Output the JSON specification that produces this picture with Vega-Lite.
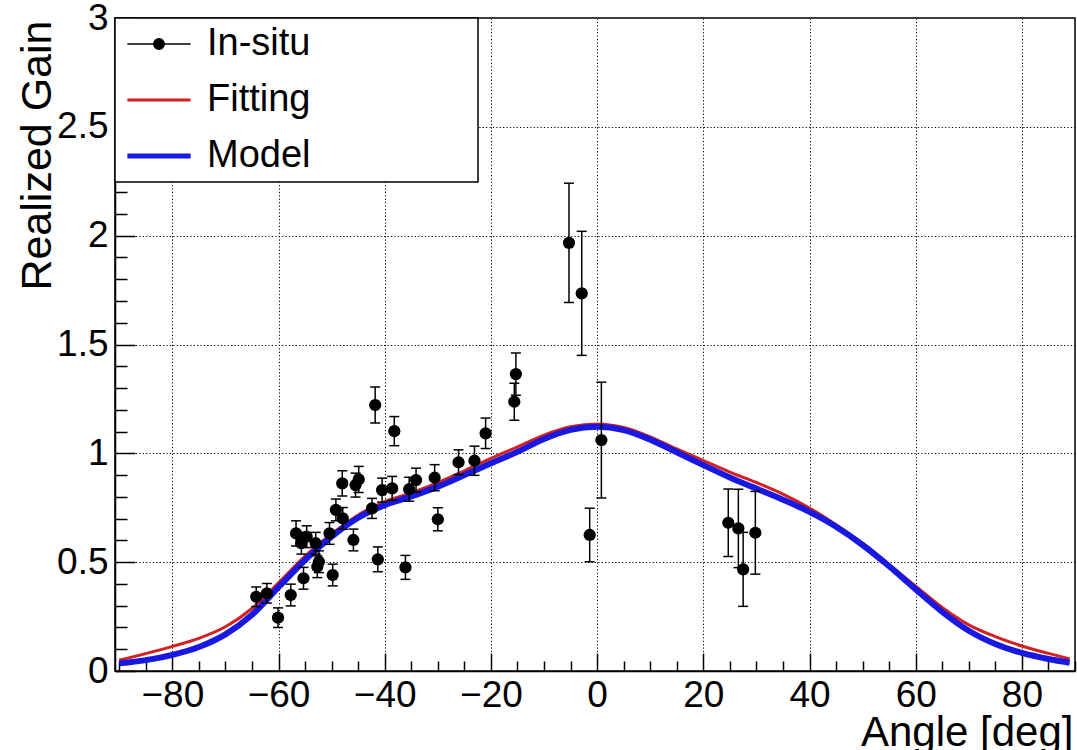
{
  "$schema": "https://vega.github.io/schema/vega-lite/v6.json",
  "width": 960,
  "height": 653,
  "autosize": "none",
  "padding": {"left": 115, "top": 18, "right": 2, "bottom": 79},
  "background": "white",
  "config": {
    "view": {"stroke": "black", "strokeWidth": 1.5},
    "font": "Liberation Sans",
    "axis": {
      "labelFont": "Liberation Sans",
      "labelColor": "black",
      "labelOverlap": false,
      "labelFlush": false,
      "labelBound": false,
      "titleFont": "Liberation Sans",
      "titleColor": "black",
      "titleFontWeight": "normal",
      "tickColor": "black",
      "tickWidth": 1.5,
      "domainColor": "black",
      "domainWidth": 1.5,
      "gridColor": "black",
      "gridDash": [1.2, 2.2],
      "gridWidth": 1
    }
  },
  "datasets": {
    "curves": [
      {"angle": -90, "series": "Fitting", "gain": 0.05},
      {"angle": -85, "series": "Fitting", "gain": 0.08},
      {"angle": -80, "series": "Fitting", "gain": 0.113},
      {"angle": -75, "series": "Fitting", "gain": 0.15},
      {"angle": -70, "series": "Fitting", "gain": 0.203},
      {"angle": -65, "series": "Fitting", "gain": 0.287},
      {"angle": -60, "series": "Fitting", "gain": 0.405},
      {"angle": -55, "series": "Fitting", "gain": 0.528},
      {"angle": -50, "series": "Fitting", "gain": 0.63},
      {"angle": -45, "series": "Fitting", "gain": 0.717},
      {"angle": -40, "series": "Fitting", "gain": 0.778},
      {"angle": -35, "series": "Fitting", "gain": 0.818},
      {"angle": -30, "series": "Fitting", "gain": 0.865},
      {"angle": -25, "series": "Fitting", "gain": 0.92},
      {"angle": -20, "series": "Fitting", "gain": 0.977},
      {"angle": -15, "series": "Fitting", "gain": 1.03},
      {"angle": -10, "series": "Fitting", "gain": 1.084},
      {"angle": -5, "series": "Fitting", "gain": 1.122},
      {"angle": 0, "series": "Fitting", "gain": 1.135},
      {"angle": 5, "series": "Fitting", "gain": 1.119},
      {"angle": 10, "series": "Fitting", "gain": 1.076},
      {"angle": 15, "series": "Fitting", "gain": 1.02},
      {"angle": 20, "series": "Fitting", "gain": 0.967},
      {"angle": 25, "series": "Fitting", "gain": 0.914},
      {"angle": 30, "series": "Fitting", "gain": 0.866},
      {"angle": 35, "series": "Fitting", "gain": 0.813},
      {"angle": 40, "series": "Fitting", "gain": 0.749},
      {"angle": 45, "series": "Fitting", "gain": 0.672},
      {"angle": 50, "series": "Fitting", "gain": 0.587},
      {"angle": 55, "series": "Fitting", "gain": 0.489},
      {"angle": 60, "series": "Fitting", "gain": 0.39},
      {"angle": 65, "series": "Fitting", "gain": 0.292},
      {"angle": 70, "series": "Fitting", "gain": 0.212},
      {"angle": 75, "series": "Fitting", "gain": 0.158},
      {"angle": 80, "series": "Fitting", "gain": 0.115},
      {"angle": 85, "series": "Fitting", "gain": 0.081},
      {"angle": 89, "series": "Fitting", "gain": 0.056},
      {"angle": -90, "series": "Model", "gain": 0.035},
      {"angle": -85, "series": "Model", "gain": 0.05},
      {"angle": -80, "series": "Model", "gain": 0.074},
      {"angle": -75, "series": "Model", "gain": 0.11},
      {"angle": -70, "series": "Model", "gain": 0.168},
      {"angle": -65, "series": "Model", "gain": 0.258},
      {"angle": -60, "series": "Model", "gain": 0.385},
      {"angle": -55, "series": "Model", "gain": 0.51},
      {"angle": -50, "series": "Model", "gain": 0.617},
      {"angle": -45, "series": "Model", "gain": 0.704},
      {"angle": -40, "series": "Model", "gain": 0.762},
      {"angle": -35, "series": "Model", "gain": 0.802},
      {"angle": -30, "series": "Model", "gain": 0.847},
      {"angle": -25, "series": "Model", "gain": 0.9},
      {"angle": -20, "series": "Model", "gain": 0.954},
      {"angle": -15, "series": "Model", "gain": 1.007},
      {"angle": -10, "series": "Model", "gain": 1.066},
      {"angle": -5, "series": "Model", "gain": 1.108},
      {"angle": 0, "series": "Model", "gain": 1.122},
      {"angle": 5, "series": "Model", "gain": 1.107},
      {"angle": 10, "series": "Model", "gain": 1.063},
      {"angle": 15, "series": "Model", "gain": 1.005},
      {"angle": 20, "series": "Model", "gain": 0.946},
      {"angle": 25, "series": "Model", "gain": 0.889},
      {"angle": 30, "series": "Model", "gain": 0.838},
      {"angle": 35, "series": "Model", "gain": 0.787},
      {"angle": 40, "series": "Model", "gain": 0.731},
      {"angle": 45, "series": "Model", "gain": 0.663},
      {"angle": 50, "series": "Model", "gain": 0.579},
      {"angle": 55, "series": "Model", "gain": 0.481},
      {"angle": 60, "series": "Model", "gain": 0.375},
      {"angle": 65, "series": "Model", "gain": 0.272},
      {"angle": 70, "series": "Model", "gain": 0.185},
      {"angle": 75, "series": "Model", "gain": 0.124},
      {"angle": 80, "series": "Model", "gain": 0.083},
      {"angle": 85, "series": "Model", "gain": 0.055},
      {"angle": 89, "series": "Model", "gain": 0.038}
    ],
    "insitu": [
      {"angle": -64.2, "gain": 0.341, "lo": 0.296, "hi": 0.386},
      {"angle": -62.2, "gain": 0.357, "lo": 0.312, "hi": 0.402},
      {"angle": -60.1, "gain": 0.245, "lo": 0.2, "hi": 0.29},
      {"angle": -57.7, "gain": 0.349, "lo": 0.299, "hi": 0.399},
      {"angle": -56.7, "gain": 0.632, "lo": 0.574, "hi": 0.69},
      {"angle": -55.7, "gain": 0.587, "lo": 0.537, "hi": 0.637},
      {"angle": -54.7, "gain": 0.617, "lo": 0.567, "hi": 0.667},
      {"angle": -55.3, "gain": 0.426, "lo": 0.376, "hi": 0.476},
      {"angle": -53.0, "gain": 0.587, "lo": 0.537, "hi": 0.637},
      {"angle": -52.7, "gain": 0.479, "lo": 0.429, "hi": 0.529},
      {"angle": -52.4, "gain": 0.502, "lo": 0.452, "hi": 0.552},
      {"angle": -50.4, "gain": 0.632, "lo": 0.582, "hi": 0.682},
      {"angle": -49.8, "gain": 0.441, "lo": 0.391, "hi": 0.491},
      {"angle": -49.2, "gain": 0.74, "lo": 0.69, "hi": 0.79},
      {"angle": -48.0, "gain": 0.862, "lo": 0.804, "hi": 0.92},
      {"angle": -47.9, "gain": 0.701, "lo": 0.651, "hi": 0.751},
      {"angle": -45.9, "gain": 0.602, "lo": 0.552, "hi": 0.652},
      {"angle": -45.5, "gain": 0.854, "lo": 0.799, "hi": 0.909},
      {"angle": -44.9, "gain": 0.88, "lo": 0.82, "hi": 0.94},
      {"angle": -42.4, "gain": 0.747, "lo": 0.701, "hi": 0.793},
      {"angle": -41.8, "gain": 1.222, "lo": 1.139, "hi": 1.305},
      {"angle": -41.3, "gain": 0.513, "lo": 0.456, "hi": 0.57},
      {"angle": -40.5, "gain": 0.831, "lo": 0.776, "hi": 0.886},
      {"angle": -38.6, "gain": 0.839, "lo": 0.784, "hi": 0.894},
      {"angle": -38.2, "gain": 1.102, "lo": 1.035, "hi": 1.169},
      {"angle": -36.1, "gain": 0.476, "lo": 0.421, "hi": 0.531},
      {"angle": -35.4, "gain": 0.835, "lo": 0.78, "hi": 0.89},
      {"angle": -34.1, "gain": 0.877, "lo": 0.822, "hi": 0.932},
      {"angle": -30.6, "gain": 0.888, "lo": 0.828, "hi": 0.948},
      {"angle": -30.0, "gain": 0.697, "lo": 0.644, "hi": 0.75},
      {"angle": -26.1, "gain": 0.959, "lo": 0.902, "hi": 1.016},
      {"angle": -23.1, "gain": 0.966, "lo": 0.899, "hi": 1.033},
      {"angle": -21.0, "gain": 1.092, "lo": 1.022, "hi": 1.162},
      {"angle": -15.6, "gain": 1.237, "lo": 1.152, "hi": 1.322},
      {"angle": -15.3, "gain": 1.364, "lo": 1.267, "hi": 1.461},
      {"angle": -5.3, "gain": 1.967, "lo": 1.693, "hi": 2.241},
      {"angle": -2.9, "gain": 1.735, "lo": 1.45, "hi": 2.02},
      {"angle": -1.4, "gain": 0.625, "lo": 0.502, "hi": 0.748},
      {"angle": 0.8, "gain": 1.061, "lo": 0.795, "hi": 1.327},
      {"angle": 24.7, "gain": 0.681, "lo": 0.526, "hi": 0.836},
      {"angle": 26.6, "gain": 0.655, "lo": 0.475, "hi": 0.835},
      {"angle": 27.5, "gain": 0.467, "lo": 0.297, "hi": 0.637},
      {"angle": 29.8, "gain": 0.635, "lo": 0.445, "hi": 0.825}
    ]
  },
  "encoding": {
    "x": {
      "field": "angle",
      "type": "quantitative",
      "title": "Angle [deg]",
      "scale": {"domain": [-90.8, 90], "nice": false, "zero": false},
      "axis": {
        "values": [-90, -85, -80, -75, -70, -65, -60, -55, -50, -45, -40, -35, -30, -25, -20, -15, -10, -5, 0, 5, 10, 15, 20, 25, 30, 35, 40, 45, 50, 55, 60, 65, 70, 75, 80, 85, 90],
        "labelExpr": "datum.value % 20 === 0 ? format(datum.value, 'd') : ''",
        "tickSize": {"condition": {"test": "datum.value % 20 === 0", "value": -18}, "value": -10},
        "grid": true,
        "gridOpacity": {"condition": {"test": "datum.value % 20 === 0", "value": 1}, "value": 0},
        "labelFontSize": 37,
        "labelPadding": 24,
        "titleFontSize": 42,
        "titleAnchor": "end",
        "titleAlign": "right",
        "titleBaseline": "alphabetic",
        "titleX": 958,
        "titleY": 74
      }
    },
    "y": {
      "field": "gain",
      "type": "quantitative",
      "title": "Realized Gain",
      "scale": {"domain": [0, 3], "nice": false, "zero": false},
      "axis": {
        "values": [0, 0.1, 0.2, 0.3, 0.4, 0.5, 0.6, 0.7, 0.8, 0.9, 1, 1.1, 1.2, 1.3, 1.4, 1.5, 1.6, 1.7, 1.8, 1.9, 2, 2.1, 2.2, 2.3, 2.4, 2.5, 2.6, 2.7, 2.8, 2.9, 3],
        "labelExpr": "abs(datum.value * 2 - round(datum.value * 2)) < 0.001 ? format(datum.value, '~g') : ''",
        "tickSize": {"condition": {"test": "abs(datum.value * 2 - round(datum.value * 2)) < 0.001", "value": -20}, "value": -12},
        "grid": true,
        "gridOpacity": {"condition": {"test": "abs(datum.value * 2 - round(datum.value * 2)) < 0.001 && datum.value > 0.01 && datum.value < 2.99", "value": 1}, "value": 0},
        "labelFontSize": 37,
        "labelPadding": 27,
        "titleFontSize": 43,
        "titleAngle": 270,
        "titleAnchor": "end",
        "titleAlign": "right",
        "titleBaseline": "alphabetic",
        "titleX": -65,
        "titleY": 2
      }
    }
  },
  "layer": [
    {
      "data": {"name": "curves"},
      "mark": {"type": "line", "interpolate": "monotone", "clip": true},
      "encoding": {
        "color": {
          "field": "series",
          "type": "nominal",
          "scale": {"domain": ["In-situ", "Fitting", "Model"], "range": ["black", "#d42020", "#1818e0"]},
          "legend": {
            "title": "WWWWWWWW",
            "titleOrient": "right",
            "titleFontSize": 19,
            "titleColor": "white",
            "titleOpacity": 0,
            "titlePadding": 17,
            "orient": "none",
            "legendX": 0,
            "legendY": 0,
            "direction": "vertical",
            "symbolType": "stroke",
            "symbolSize": 1000,
            "symbolStrokeWidth": 3,
            "symbolOffset": 18,
            "labelOffset": 29,
            "labelFont": "Liberation Sans",
            "labelFontSize": 38,
            "labelColor": "black",
            "labelLimit": 600,
            "padding": 7,
            "rowPadding": 18,
            "strokeColor": "black",
            "fillColor": "white",
            "encode": {
              "legend": {"update": {"strokeWidth": {"value": 1.5}}},
              "symbols": {
                "update": {
                  "shape": {"signal": "datum.value === 'In-situ' ? 'M-2,0L2,0M-0.33,0A0.33,0.33,0,1,1,0.33,0A0.33,0.33,0,1,1,-0.33,0Z' : 'M-2,0L2,0'"},
                  "strokeWidth": {"signal": "datum.value === 'Model' ? 5 : datum.value === 'Fitting' ? 3 : 1.5"},
                  "fill": {"signal": "datum.value === 'In-situ' ? 'black' : 'transparent'"},
                  "opacity": {"value": 1}
                }
              }
            }
          }
        },
        "strokeWidth": {
          "field": "series",
          "type": "nominal",
          "scale": {"domain": ["Fitting", "Model"], "range": [3, 6]},
          "legend": null
        }
      }
    },
    {
      "data": {"name": "insitu"},
      "mark": {"type": "rule", "color": "black", "strokeWidth": 1.5},
      "encoding": {
        "y": {
          "field": "lo",
          "type": "quantitative",
          "title": "Realized Gain",
          "scale": {"domain": [0, 3], "nice": false, "zero": false},
          "axis": {
            "values": [0, 0.1, 0.2, 0.3, 0.4, 0.5, 0.6, 0.7, 0.8, 0.9, 1, 1.1, 1.2, 1.3, 1.4, 1.5, 1.6, 1.7, 1.8, 1.9, 2, 2.1, 2.2, 2.3, 2.4, 2.5, 2.6, 2.7, 2.8, 2.9, 3],
            "labelExpr": "abs(datum.value * 2 - round(datum.value * 2)) < 0.001 ? format(datum.value, '~g') : ''",
            "tickSize": {"condition": {"test": "abs(datum.value * 2 - round(datum.value * 2)) < 0.001", "value": -20}, "value": -12},
            "grid": true,
            "gridOpacity": {"condition": {"test": "abs(datum.value * 2 - round(datum.value * 2)) < 0.001 && datum.value > 0.01 && datum.value < 2.99", "value": 1}, "value": 0},
            "labelFontSize": 37,
            "labelPadding": 27,
            "titleFontSize": 43,
            "titleAngle": 270,
            "titleAnchor": "end",
            "titleAlign": "right",
            "titleBaseline": "alphabetic",
            "titleX": -65,
            "titleY": 2
          }
        },
        "y2": {"field": "hi"}
      }
    },
    {
      "data": {"name": "insitu"},
      "mark": {"type": "tick", "orient": "horizontal", "color": "black", "size": 10, "thickness": 1.5, "opacity": 1},
      "encoding": {
        "y": {
          "field": "lo",
          "type": "quantitative",
          "title": "Realized Gain",
          "scale": {"domain": [0, 3], "nice": false, "zero": false},
          "axis": {
            "values": [0, 0.1, 0.2, 0.3, 0.4, 0.5, 0.6, 0.7, 0.8, 0.9, 1, 1.1, 1.2, 1.3, 1.4, 1.5, 1.6, 1.7, 1.8, 1.9, 2, 2.1, 2.2, 2.3, 2.4, 2.5, 2.6, 2.7, 2.8, 2.9, 3],
            "labelExpr": "abs(datum.value * 2 - round(datum.value * 2)) < 0.001 ? format(datum.value, '~g') : ''",
            "tickSize": {"condition": {"test": "abs(datum.value * 2 - round(datum.value * 2)) < 0.001", "value": -20}, "value": -12},
            "grid": true,
            "gridOpacity": {"condition": {"test": "abs(datum.value * 2 - round(datum.value * 2)) < 0.001 && datum.value > 0.01 && datum.value < 2.99", "value": 1}, "value": 0},
            "labelFontSize": 37,
            "labelPadding": 27,
            "titleFontSize": 43,
            "titleAngle": 270,
            "titleAnchor": "end",
            "titleAlign": "right",
            "titleBaseline": "alphabetic",
            "titleX": -65,
            "titleY": 2
          }
        }
      }
    },
    {
      "data": {"name": "insitu"},
      "mark": {"type": "tick", "orient": "horizontal", "color": "black", "size": 10, "thickness": 1.5, "opacity": 1},
      "encoding": {
        "y": {
          "field": "hi",
          "type": "quantitative",
          "title": "Realized Gain",
          "scale": {"domain": [0, 3], "nice": false, "zero": false},
          "axis": {
            "values": [0, 0.1, 0.2, 0.3, 0.4, 0.5, 0.6, 0.7, 0.8, 0.9, 1, 1.1, 1.2, 1.3, 1.4, 1.5, 1.6, 1.7, 1.8, 1.9, 2, 2.1, 2.2, 2.3, 2.4, 2.5, 2.6, 2.7, 2.8, 2.9, 3],
            "labelExpr": "abs(datum.value * 2 - round(datum.value * 2)) < 0.001 ? format(datum.value, '~g') : ''",
            "tickSize": {"condition": {"test": "abs(datum.value * 2 - round(datum.value * 2)) < 0.001", "value": -20}, "value": -12},
            "grid": true,
            "gridOpacity": {"condition": {"test": "abs(datum.value * 2 - round(datum.value * 2)) < 0.001 && datum.value > 0.01 && datum.value < 2.99", "value": 1}, "value": 0},
            "labelFontSize": 37,
            "labelPadding": 27,
            "titleFontSize": 43,
            "titleAngle": 270,
            "titleAnchor": "end",
            "titleAlign": "right",
            "titleBaseline": "alphabetic",
            "titleX": -65,
            "titleY": 2
          }
        }
      }
    },
    {
      "data": {"name": "insitu"},
      "mark": {"type": "circle", "size": 150, "color": "black", "opacity": 1}
    }
  ]
}
